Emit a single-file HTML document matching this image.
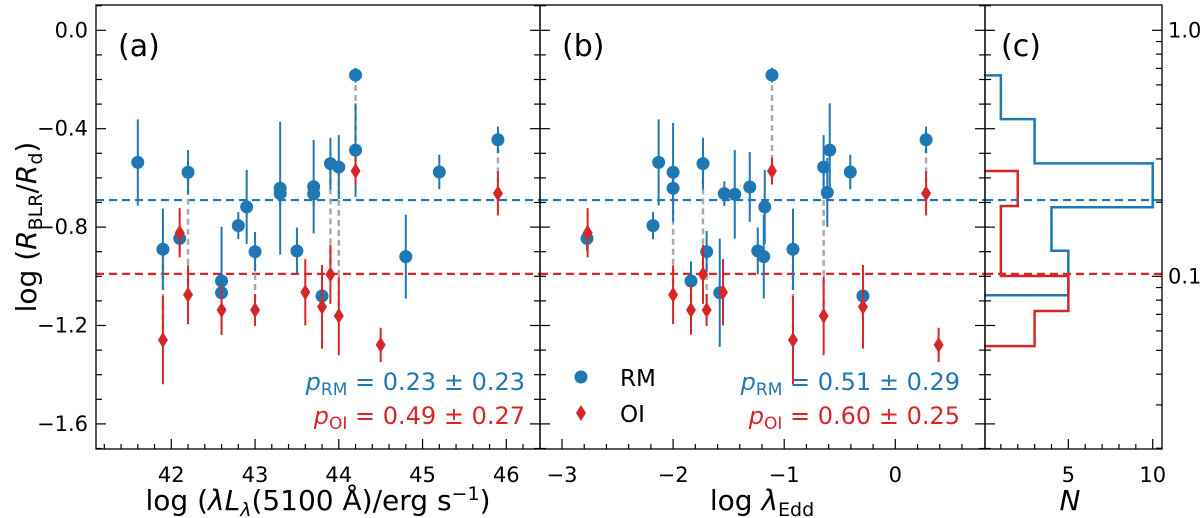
<!DOCTYPE html>
<html><head><meta charset="utf-8"><style>
body{margin:0;background:#fff;}
svg{display:block;font-family:"DejaVu Sans","Liberation Sans",sans-serif;}
</style></head><body>
<svg id="fig" width="1200" height="518" viewBox="0 0 1200 518">
<g id="g"></g>
<g font-family="DejaVu Sans, Liberation Sans, sans-serif">
<text x="118" y="56" font-size="30">(a)</text>
<text x="562" y="56" font-size="30">(b)</text>
<text x="1001" y="56" font-size="30">(c)</text>
<text transform="translate(36,227) rotate(-90)" font-size="28" text-anchor="middle">log (<tspan font-style="italic">R</tspan><tspan font-size="19" dy="6">BLR</tspan><tspan dy="-6">/</tspan><tspan font-style="italic">R</tspan><tspan font-size="19" dy="6">d</tspan><tspan dy="-6">)</tspan></text>
<text x="318" y="510" font-size="28" text-anchor="middle">log (<tspan font-style="italic">λL</tspan><tspan font-size="19" dy="6" font-style="italic">λ</tspan><tspan dy="-6">(5100 Å)/erg s</tspan><tspan font-size="19" dy="-10">−1</tspan><tspan dy="10">)</tspan></text>
<text x="762" y="510" font-size="28" text-anchor="middle">log <tspan font-style="italic">λ</tspan><tspan font-size="19" dy="6">Edd</tspan></text>
<text x="1070" y="510" font-size="28" text-anchor="middle" font-style="italic">N</text>
<text x="525" y="390" font-size="24" text-anchor="end" fill="#1f77b4"><tspan font-style="italic">p</tspan><tspan font-size="17" dy="5">RM</tspan><tspan dy="-5"> = 0.23 ± 0.23</tspan></text>
<text x="525" y="424" font-size="24" text-anchor="end" fill="#d62728"><tspan font-style="italic">p</tspan><tspan font-size="17" dy="5">OI</tspan><tspan dy="-5"> = 0.49 ± 0.27</tspan></text>
<text x="960" y="390" font-size="24" text-anchor="end" fill="#1f77b4"><tspan font-style="italic">p</tspan><tspan font-size="17" dy="5">RM</tspan><tspan dy="-5"> = 0.51 ± 0.29</tspan></text>
<text x="960" y="424" font-size="24" text-anchor="end" fill="#d62728"><tspan font-style="italic">p</tspan><tspan font-size="17" dy="5">OI</tspan><tspan dy="-5"> = 0.60 ± 0.25</tspan></text>
<g>
<circle cx="581" cy="377" r="6.5" fill="#1f77b4"/>
<text x="620" y="386" font-size="23">RM</text>
<polygon points="581,405 586,413 581,421 576,413" fill="#d62728"/>
<text x="620" y="422" font-size="23">OI</text>
</g>
</g>
</svg>
<script>
// ---- data ----
const yTicks=[0.0,-0.4,-0.8,-1.2,-1.6];
const aTicks=[42,43,44,45,46];
const bTicks=[-3,-2,-1,0];
const cTicks=[5,10];
// panel a: RM
const aRmX=[41.60,41.90,42.10,42.20,42.60,42.60,42.80,42.90,43.00,43.30,43.30,43.50,43.70,43.70,43.80,43.90,44.00,44.20,44.20,44.80,45.20,45.90];
const aRmY=[-0.537,-0.89,-0.846,-0.577,-1.019,-1.067,-0.794,-0.718,-0.9,-0.642,-0.664,-0.897,-0.636,-0.665,-1.08,-0.542,-0.556,-0.182,-0.487,-0.92,-0.576,-0.445];
const aRmE=[0.175,0.165,0.05,0.09,0.22,0.05,0.055,0.15,0.08,0.27,0.05,0.095,0.19,0.05,0.03,0.105,0.13,0.03,0.19,0.17,0.07,0.054];
// panel a: OI
const aOiX=[41.90,42.10,42.20,42.60,43.00,43.60,43.80,43.90,44.00,44.20,44.50,45.90];
const aOiY=[-1.259,-0.823,-1.075,-1.137,-1.137,-1.065,-1.124,-0.992,-1.161,-0.572,-1.279,-0.663];
const aOiE=[0.18,0.1,0.12,0.1,0.065,0.135,0.17,0.12,0.16,0.055,0.07,0.09];
const aPair=[1,2,3,4,8,-1,14,15,16,17,-1,21];
// panel b: RM
const bRmX=[-2.775,-2.181,-2.13,-2.0,-2.0,-1.839,-1.731,-1.698,-1.58,-1.539,-1.445,-1.31,-1.238,-1.184,-1.175,-1.11,-0.921,-0.645,-0.59,-0.612,-0.405,-0.291,0.277];
const bRmY=[-0.846,-0.794,-0.537,-0.577,-0.642,-1.019,-0.542,-0.9,-1.067,-0.664,-0.667,-0.637,-0.897,-0.92,-0.718,-0.182,-0.89,-0.556,-0.487,-0.659,-0.576,-1.08,-0.445];
const bRmE=[0.05,0.055,0.175,0.2,0.05,0.08,0.105,0.084,0.22,0.05,0.18,0.142,0.095,0.17,0.15,0.03,0.165,0.13,0.19,0.14,0.07,0.03,0.054];
// panel b: OI
const bOiX=[-2.769,-2.0,-1.839,-1.731,-1.698,-1.551,-1.11,-0.921,-0.645,-0.291,0.277,0.39];
const bOiY=[-0.823,-1.075,-1.137,-0.992,-1.137,-1.065,-0.572,-1.259,-1.161,-1.124,-0.663,-1.279];
const bOiE=[0.1,0.12,0.1,0.12,0.065,0.135,0.055,0.18,0.16,0.17,0.09,0.07];
const bPair=[0,3,5,6,7,-1,15,16,17,21,22,-1];
// panel c histograms
const rmEdges=[-0.183,-0.361,-0.541,-0.7195,-0.896,-1.077];
const rmCounts=[1,3,10,4,5];
const oiEdges=[-0.572,-0.714,-0.857,-0.999,-1.141,-1.284];
const oiCounts=[2,1,1,5,3];
const rmMean=-0.69, oiMean=-0.99;
const rightTickVals=[1.0,0.9,0.8,0.7,0.6,0.5,0.4,0.3,0.2,0.1,0.09,0.08,0.07,0.06,0.05,0.04,0.03,0.02];
const rightLabels=[1.0,0.1];

// ---- geometry ----
const TOP=5,BOT=449;
const Y=v=>30.3-v*246;
const A={l:96,r:540,x:v=>171.3+(v-42)*83.75};
const B={l:540,r:985,x:v=>562+(v+3)*111.1};
const C={l:985,r:1162,x:v=>984+v*16.87};
const BLUE="#1f77b4",RED="#d62728";
const NS="http://www.w3.org/2000/svg";
const G=document.getElementById('g');
function el(t,at,txt){const e=document.createElementNS(NS,t);for(const k in at)e.setAttribute(k,at[k]);if(txt!==undefined)e.textContent=txt;G.appendChild(e);return e;}

function frame(P,name){
  const r=el('rect',{x:P.l,y:TOP,width:P.r-P.l,height:BOT-TOP,fill:'none',stroke:'#000','stroke-width':1.3});
  
  
  for(let k=1;k>=-17;k--){
    const v=k/10;
    const py=Y(v); if(py<TOP||py>BOT)continue;
    const maj=(k%4===0);
    const len=maj?10:6;
    el('line',{x1:P.l,x2:P.l+len,y1:py,y2:py,stroke:'#000','stroke-width':1.2});
    if(name!=='panel-c') el('line',{x1:P.r,x2:P.r-len,y1:py,y2:py,stroke:'#000','stroke-width':1.2});
  }
}
function hline(P,v,c){
  const l=el('line',{x1:P.l,x2:P.r,y1:Y(v),y2:Y(v),stroke:c,'stroke-width':2.2,'stroke-dasharray':'8,5'});
  
  
}
function xticks(P,lo,hi,step,majors,nm){
  for(let v=lo;v<=hi+1e-9;v+=step){
    const px=P.x(v); if(px<=P.l+1||px>=P.r-1)continue;
    const maj=majors.some(m=>Math.abs(m-v)<1e-6);
    el('line',{x1:px,x2:px,y1:BOT,y2:BOT-(maj?10:5),stroke:'#000','stroke-width':1.2});
  }
  majors.forEach(m=>{
    const t=el('text',{x:P.x(m),y:482,'font-size':21,'text-anchor':'middle'},String(m).replace('-','−'));
    
    
  });
}
function series(P,rx,ry,re,ox,oy,oe,pair,nm){
  pair.forEach((j,i)=>{ if(j<0)return;
    const l=el('line',{x1:P.x(ox[i]),x2:P.x(rx[j]),y1:Y(oy[i]),y2:Y(ry[j]),stroke:'#aaa','stroke-width':2.5,'stroke-dasharray':'6,4'});
    
    
  });
  rx.forEach((x,i)=>{
    const px=P.x(x),py=Y(ry[i]);
    el('line',{x1:px,x2:px,y1:Y(ry[i]+re[i]),y2:Y(ry[i]-re[i]),stroke:BLUE,'stroke-width':2});
    const c=el('circle',{cx:px,cy:py,r:6.5,fill:BLUE});
    
    
  });
  ox.forEach((x,i)=>{
    const px=P.x(x),py=Y(oy[i]);
    el('line',{x1:px,x2:px,y1:Y(oy[i]+oe[i]),y2:Y(oy[i]-oe[i]),stroke:RED,'stroke-width':2});
    const d=el('polygon',{points:`${px},${py-8} ${px+5},${py} ${px},${py+8} ${px-5},${py}`,fill:RED});
    
    
  });
}
function hist(edges,counts,c,nm){
  let d=`M${C.x(0)},${Y(edges[0])}`;
  counts.forEach((n,i)=>{d+=` L${C.x(n)},${Y(edges[i])} L${C.x(n)},${Y(edges[i+1])}`;});
  d+=` L${C.x(0)},${Y(edges[edges.length-1])}`;
  const p=el('path',{d:d,fill:'none',stroke:c,'stroke-width':2.5});
  
  
}

hline(A,rmMean,BLUE);hline(A,oiMean,RED);
series(A,aRmX,aRmY,aRmE,aOiX,aOiY,aOiE,aPair,'panel-a');
frame(A,'panel-a');
xticks(A,41.2,46.4,0.2,aTicks,'x-axis-a');
hline(B,rmMean,BLUE);hline(B,oiMean,RED);
series(B,bRmX,bRmY,bRmE,bOiX,bOiY,bOiE,bPair,'panel-b');
frame(B,'panel-b');
xticks(B,-3.2,0.8,0.2,bTicks,'x-axis-b');
hist(rmEdges,rmCounts,BLUE,'rm-histogram');
hist(oiEdges,oiCounts,RED,'oi-histogram');
hline(C,rmMean,BLUE);hline(C,oiMean,RED);
frame(C,'panel-c');
xticks(C,1,10,1,cTicks,'x-axis-c');
rightTickVals.forEach(v=>{
  const py=Y(Math.log10(v));
  const maj=rightLabels.some(m=>Math.abs(m-v)<1e-9);
  el('line',{x1:C.r,x2:C.r-(maj?10:6),y1:py,y2:py,stroke:'#000','stroke-width':1.2});
});
rightLabels.forEach(v=>{
  const t=el('text',{x:1168,y:Y(Math.log10(v))+7,'font-size':21},v.toFixed(1));
  
  
});
yTicks.forEach(v=>{
  const t=el('text',{x:88,y:Y(v)+7,'font-size':21,'text-anchor':'end'},(v===0?'0.0':v.toFixed(1).replace('-','−')));
  
  
});
</script>
</body></html>
